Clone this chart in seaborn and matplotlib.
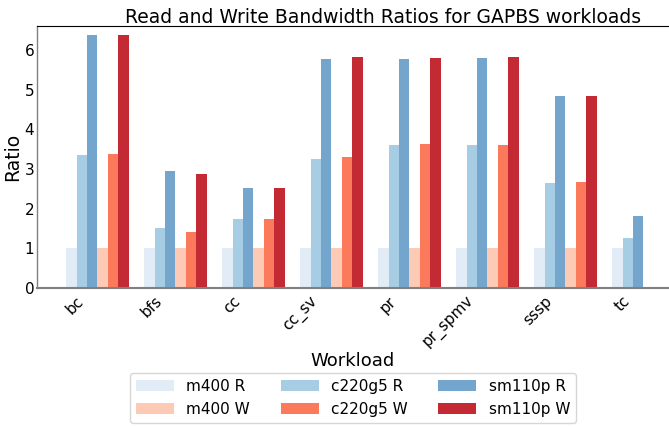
import seaborn as sns
import matplotlib.pyplot as plt
import pandas as pd
import numpy as np

# Bandwidth ratios (normalised to m400)
workloads = ['bc', 'bfs', 'cc', 'cc_sv', 'pr', 'pr_spmv', 'sssp', 'tc']
m400_r = [1.0, 1.0, 1.0, 1.0, 1.0, 1.0, 1.0, 1.0]
c220g5_r = [3.36, 1.50, 1.73, 3.26, 3.61, 3.59, 2.65, 1.27]
sm110p_r = [6.37, 2.95, 2.52, 5.78, 5.78, 5.80, 4.83, 1.81]
m400_w = [1.0, 1.0, 1.0, 1.0, 1.0, 1.0, 1.0, np.nan]
c220g5_w = [3.38, 1.40, 1.73, 3.31, 3.64, 3.61, 2.67, np.nan]
sm110p_w = [6.37, 2.87, 2.52, 5.83, 5.80, 5.83, 4.83, np.nan]

series = {
    'm400 R': m400_r,
    'c220g5 R': c220g5_r,
    'sm110p R': sm110p_r,
    'm400 W': m400_w,
    'c220g5 W': c220g5_w,
    'sm110p W': sm110p_w,
}
colors = {
    'm400 R': '#e2ecf6',
    'c220g5 R': '#a6cde4',
    'sm110p R': '#74a5cd',
    'm400 W': '#fdcab5',
    'c220g5 W': '#fb7a5c',
    'sm110p W': '#c42a33',
}

rows = []
for name, vals in series.items():
    for wl, v in zip(workloads, vals):
        if not np.isnan(v):
            rows.append({'Workload': wl, 'Series': name, 'Ratio': v})
df = pd.DataFrame(rows)

sns.set_style("white")
plt.rcParams['font.family'] = ['DejaVu Sans']
plt.rcParams['text.color'] = 'black'
plt.rcParams['axes.labelcolor'] = 'black'
plt.rcParams['xtick.color'] = 'black'
plt.rcParams['ytick.color'] = 'black'

fig = plt.figure(figsize=(6.69, 4.26), dpi=100)
ax = fig.add_axes([37 / 669, (426 - 288) / 426, 632 / 669, 262 / 426])

hue_order = list(series.keys())
sns.barplot(
    data=df, x='Workload', y='Ratio', hue='Series',
    order=workloads, hue_order=hue_order, palette=colors, saturation=1,
    width=0.8, errorbar=None, linewidth=0, ax=ax
)

bar_w = 0.8 / 6
ax.set_xticks(np.arange(len(workloads)) - bar_w)
ax.set_xticklabels(workloads, rotation=45, ha='right', fontsize=11)
ax.set_xlim(-0.774, -0.774 + 632 / 78)
ax.set_ylim(0, 6.6)
ax.set_yticks(range(7))
ax.tick_params(axis='y', labelsize=11, length=0, pad=2)
ax.tick_params(axis='x', length=3, width=1, color='#333333', pad=1)

# title sits right of the axes centre in the reference
ax.set_title('Read and Write Bandwidth Ratios for GAPBS workloads',
             fontsize=13.5, pad=2, x=0.547)
ax.set_xlabel('Workload', fontsize=13, labelpad=1)
ax.set_ylabel('Ratio', fontsize=13.5, labelpad=2)

for side in ['left', 'bottom']:
    ax.spines[side].set_color('gray')
ax.spines['bottom'].set_linewidth(1.5)
ax.spines['left'].set_linewidth(1)
ax.spines['top'].set_color('black')
ax.spines['right'].set_visible(False)

handles, labels = ax.get_legend_handles_labels()
lookup = dict(zip(labels, handles))
leg_order = ['m400 R', 'm400 W', 'c220g5 R', 'c220g5 W', 'sm110p R', 'sm110p W']
ax.legend([lookup[k] for k in leg_order], leg_order, loc='upper center',
          bbox_to_anchor=(0.5, -0.295), ncol=3, fontsize=11, frameon=True,
          handlelength=2.5, columnspacing=2.0)

fig.savefig('out.png', dpi=100)
plt.close(fig)
